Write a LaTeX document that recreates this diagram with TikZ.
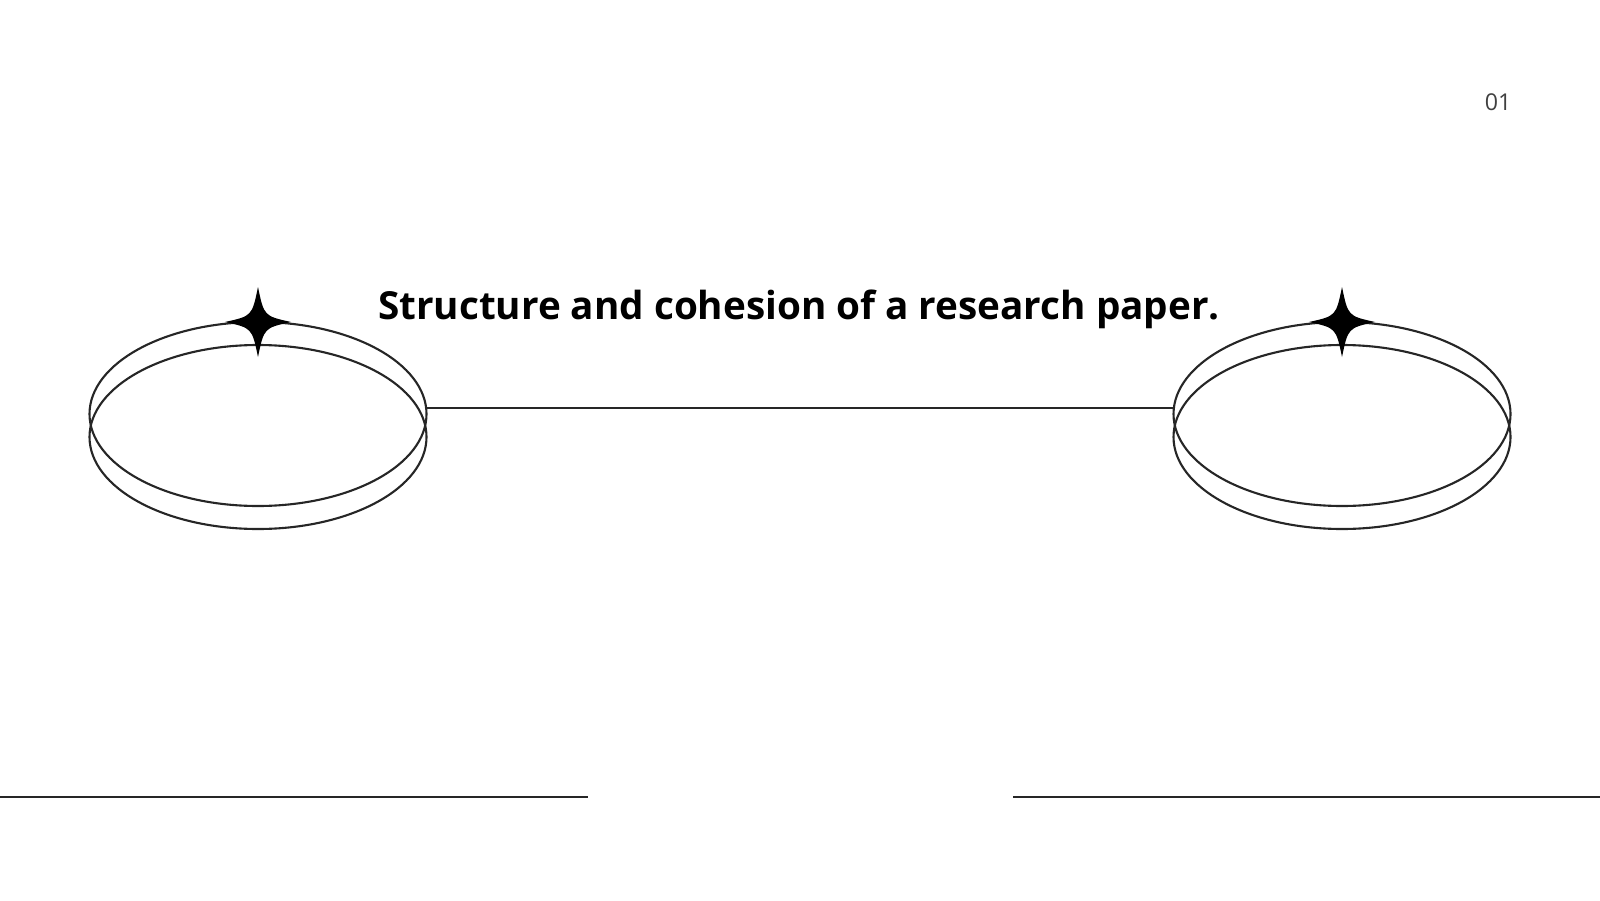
\documentclass[tikz,border=0pt]{standalone}
\usepackage{fontspec}
\setmainfont{Open Sans}
\usetikzlibrary{shapes}

\tikzset{ring/.style={shape=ellipse,draw=black!85,line width=0.6pt,minimum width=3.37cm,minimum height=1.84cm,inner sep=0pt},
star/.style={fill=black}}

\begin{document}
\begin{tikzpicture}
\useasboundingbox (0,0) rectangle (16,9);
\node[ring] (l2) at (2.58,4.63) {};
\node[ring] (l1) at (2.58,4.86) {};
\node[ring] (r2) at (13.42,4.63) {};
\node[ring] (r1) at (13.42,4.86) {};
\coordinate (lstar) at (2.58,5.78);
\coordinate (rstar) at (13.42,5.78);
\foreach \c in {lstar,rstar}
  \fill[star] ([yshift=0.35cm]\c) .. controls ([shift={(0.06,0.06)}]\c) .. ([xshift=0.33cm]\c)
    .. controls ([shift={(0.06,-0.06)}]\c) .. ([yshift=-0.35cm]\c)
    .. controls ([shift={(-0.06,-0.06)}]\c) .. ([xshift=-0.33cm]\c)
    .. controls ([shift={(-0.06,0.06)}]\c) .. cycle;
\node[font=\bfseries\fontsize{11}{13}\selectfont] (title) at (7.99,5.91) {Structure and cohesion of a research paper.};
\node[font=\fontsize{6.6}{8}\selectfont,text=black!75] (page) at (14.98,7.98) {01};
\coordinate (m1) at (4.27,4.92);
\coordinate (m2) at (11.73,4.92);
\coordinate (b1) at (0,1.03);
\coordinate (b2) at (5.88,1.03);
\coordinate (b3) at (10.13,1.03);
\coordinate (b4) at (16,1.03);
\path [-,draw=black!85,line width=0.6pt] (m1) edge (m2);
\path [-,draw=black!85,line width=0.6pt] (b1) edge (b2);
\path [-,draw=black!85,line width=0.6pt] (b3) edge (b4);
\end{tikzpicture}
\end{document}
